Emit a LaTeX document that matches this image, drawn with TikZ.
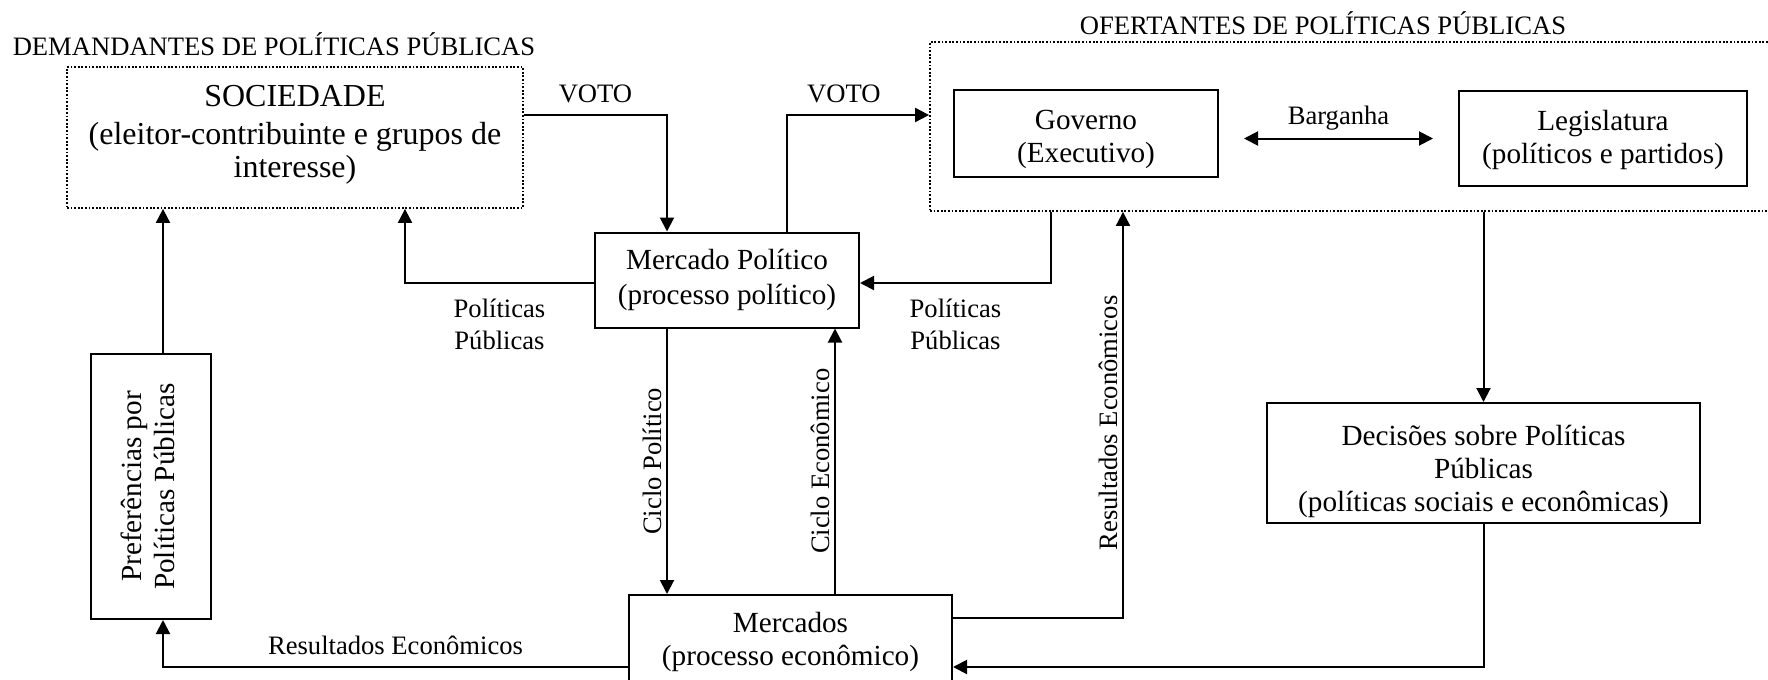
\documentclass[tikz,border=0pt]{standalone}
\usepackage{fontspec}
\setmainfont{Liberation Serif}
\usetikzlibrary{arrows.meta,positioning}

\begin{document}
\begin{tikzpicture}[
  x=0.5pt, y=-0.5pt,
  caixa/.style={draw,line width=1pt,align=center,inner sep=0pt,font=\fontsize{14.6}{16.5}\selectfont},
  grupo/.style={draw,line width=0.9pt,dash pattern=on 0.9pt off 0.9pt,inner sep=0pt},
  titulo/.style={font=\fontsize{13.3}{16}\selectfont},
  rot/.style={font=\fontsize{13.3}{16}\selectfont,align=center,inner sep=2pt},
  seta/.style={-{Triangle[length=7pt,width=7pt]},line width=1pt},
  seta2/.style={{Triangle[length=7pt,width=7pt]}-{Triangle[length=7pt,width=7pt]},line width=1pt}
]
\clip (0,0) rectangle (1768,680);
% titulos
\node[titulo] (demtit) at (274,44) {DEMANDANTES DE POLÍTICAS PÚBLICAS};
\node[titulo] (oftit) at (1323,23) {OFERTANTES DE POLÍTICAS PÚBLICAS};
% caixas
\node[grupo,minimum width=228pt,minimum height=70.5pt,align=center,font=\fontsize{16}{16.5}\selectfont] (soc) at (295,137.5) {SOCIEDADE\\[2.5pt](eleitor-contribuinte e grupos de\\interesse)\rule[-5.8pt]{0pt}{5.8pt}};
\node[grupo,minimum width=421pt,minimum height=84.5pt] (oft) at (1351,126.5) {};
\node[caixa,minimum width=132pt,minimum height=43.5pt] (gov) at (1086,133.5) {\rule{0pt}{15.6pt}Governo\\(Executivo)};
\node[caixa,minimum width=144pt,minimum height=47.5pt] (leg) at (1603,138.5) {\rule{0pt}{11.2pt}Legislatura\\(políticos e partidos)};
\node[caixa,minimum width=132pt,minimum height=47.5pt,font=\fontsize{14.6}{17.5}\selectfont] (merc) at (727,280) {Mercado Político\\(processo político)};
\node[caixa,minimum width=60pt,minimum height=132.5pt] (pref) at (151,486.5) {\rotatebox{90}{\begin{tabular}{@{}c@{}}Preferências por\\Políticas Públicas\end{tabular}}};
\node[caixa,minimum width=216.5pt,minimum height=60pt] (dec) at (1483.5,463) {\rule{0pt}{18.2pt}Decisões sobre Políticas\\Públicas\\(políticas sociais e econômicas)};
\node[caixa,minimum width=161.5pt,minimum height=46.5pt] (mkts) at (790.5,641.5) {Mercados\\(processo econômico)};
% pontos auxiliares
\coordinate (cp) at ([xshift=-30pt]merc.south);
\coordinate (ce) at ([xshift=22.25pt]mkts.north);
\coordinate (gp) at ([xshift=-17.5pt]gov.south);
\coordinate (pn) at ([xshift=6pt]pref.north);
\coordinate (b1) at ([xshift=12.5pt]gov.east);
% setas
\draw[seta] ([yshift=11.25pt]soc.east) -| node[rot,pos=.25,yshift=10.75pt]{VOTO} ([xshift=-30pt]merc.north);
\draw[seta] ([xshift=30pt]merc.north) |- node[rot,pos=.7,yshift=10.75pt]{VOTO} ([yshift=5.75pt]oft.west);
\draw[seta2] (b1 |- leg.west) -- node[rot,yshift=10pt]{Barganha} ([xshift=-12.5pt]leg.west);
\draw[seta] (gp |- oft.south) |- node[rot,pos=.75,yshift=-20.5pt]{Políticas\\Públicas} ([yshift=-1.5pt]merc.east);
\draw[seta] ([yshift=-1.5pt]merc.west) -| node[rot,pos=.25,yshift=-20.5pt]{Políticas\\Públicas} ([xshift=55pt]soc.south);
\draw[seta] (pn) -- (pn |- soc.south);
\draw[seta] ([yshift=-12.75pt]mkts.west) -| node[rot,pos=.25,yshift=11pt]{Resultados Econômicos} ([xshift=6pt]pref.south);
\draw[seta] (cp) -- node[rot,anchor=south,rotate=90]{Ciclo Político} (cp |- mkts.north);
\draw[seta] (ce) -- node[rot,anchor=south,rotate=90]{Ciclo Econômico} (ce |- merc.south);
\draw[seta] ([yshift=11.75pt]mkts.east) -| node[rot,pos=.74,anchor=south,rotate=90]{Resultados Econômicos} ([xshift=-114pt]oft.south);
\draw[seta] (dec.north |- oft.south) -- (dec.north);
\draw[seta] (dec.south) |- ([yshift=-12.75pt]mkts.east);
\end{tikzpicture}
\end{document}
